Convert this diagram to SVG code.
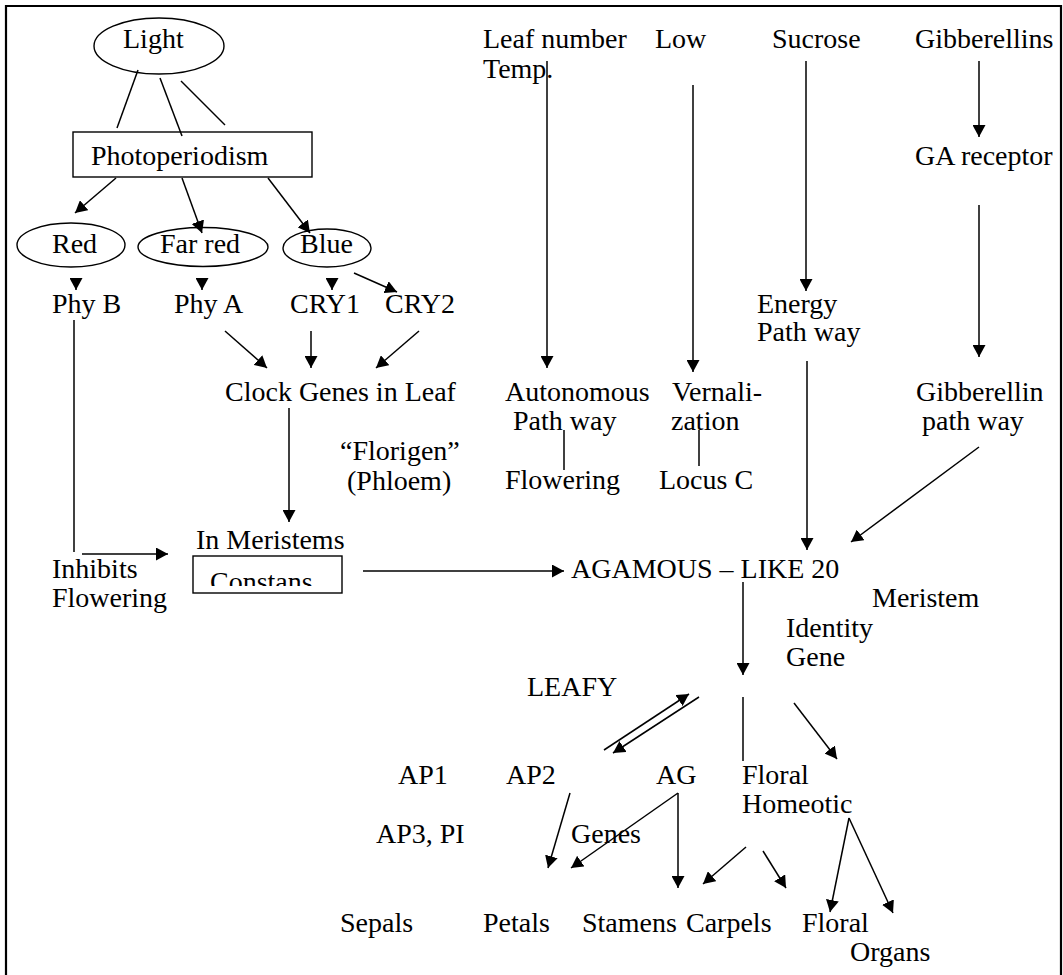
<svg xmlns="http://www.w3.org/2000/svg" width="1063" height="975" viewBox="0 0 1063 975">
<style>
text{font-family:"Liberation Serif","Times New Roman",serif;font-size:28px;fill:#000}
.sh{fill:none;stroke:#000;stroke-width:1.4}
.c line{stroke:#000;stroke-width:1.5}
.a{marker-end:url(#ah)}
</style>
<defs>
<marker id="ah" markerUnits="userSpaceOnUse" markerWidth="13" markerHeight="13" refX="12" refY="6.5" orient="auto">
<path d="M0,0 L12,6.5 L0,13 z" fill="#000"/>
</marker>
<clipPath id="cc"><rect x="190" y="556" width="155" height="30"/></clipPath>
</defs>
<rect width="1063" height="975" fill="#fff"/>
<path d="M6,975 V6 H1061 V975" fill="none" stroke="#000" stroke-width="2.2"/>

<g id="light"><ellipse class="sh" cx="159" cy="46" rx="65" ry="28"/><text x="123" y="48">Light</text></g>
<g id="photoperiodism"><rect class="sh" x="73" y="132" width="239" height="45"/><text x="91" y="165">Photoperiodism</text></g>
<g id="red"><ellipse class="sh" cx="71" cy="245" rx="54" ry="22"/><text x="52" y="253">Red</text></g>
<g id="farred"><ellipse class="sh" cx="203" cy="247" rx="65" ry="19.5"/><text x="160" y="253">Far red</text></g>
<g id="blue"><ellipse class="sh" cx="327" cy="248" rx="44" ry="19"/><text x="300" y="253">Blue</text></g>
<g id="phyb"><text x="52" y="313">Phy B</text></g>
<g id="phya"><text x="174" y="313">Phy A</text></g>
<g id="cry1"><text x="290" y="313">CRY1</text></g>
<g id="cry2"><text x="385" y="313">CRY2</text></g>
<g id="clock"><text x="225" y="401">Clock Genes in Leaf</text></g>
<g id="florigen"><text x="340" y="460">“Florigen”</text><text x="347" y="490">(Phloem)</text></g>
<g id="constans"><text x="196" y="549">In Meristems</text><rect class="sh" x="193" y="556" width="149" height="37"/><text x="210" y="591" clip-path="url(#cc)">Constans</text></g>
<g id="inhibits"><text x="52" y="578">Inhibits</text><text x="52" y="607">Flowering</text></g>
<g id="leafnumber"><text x="483" y="48">Leaf number</text><text x="483" y="78">Temp.</text></g>
<g id="low"><text x="655" y="48">Low</text></g>
<g id="sucrose"><text x="772" y="48">Sucrose</text></g>
<g id="gibberellins"><text x="915" y="48">Gibberellins</text></g>
<g id="gareceptor"><text x="915" y="165">GA receptor</text></g>
<g id="energy"><text x="757" y="313">Energy</text><text x="757" y="341">Path way</text></g>
<g id="autonomous"><text x="505" y="401">Autonomous</text><text x="513" y="430">Path way</text></g>
<g id="vernalization"><text x="672" y="401">Vernali-</text><text x="671" y="430">zation</text></g>
<g id="gibpath"><text x="916" y="401">Gibberellin</text><text x="922" y="430">path way</text></g>
<g id="flowering"><text x="505" y="489">Flowering</text></g>
<g id="locusc"><text x="659" y="489">Locus C</text></g>
<g id="agamous"><text x="571" y="578">AGAMOUS – LIKE 20</text></g>
<g id="meristem"><text x="872" y="607">Meristem</text><text x="786" y="637">Identity</text><text x="786" y="666">Gene</text></g>
<g id="leafy"><text x="527" y="696">LEAFY</text></g>
<g id="ap1"><text x="398" y="784">AP1</text></g>
<g id="ap2"><text x="506" y="784">AP2</text></g>
<g id="ag"><text x="656" y="784">AG</text></g>
<g id="floralhomeotic"><text x="742" y="784">Floral</text><text x="742" y="813">Homeotic</text></g>
<g id="ap3"><text x="376" y="843">AP3, PI</text></g>
<g id="genes"><text x="571" y="843">Genes</text></g>
<g id="sepals"><text x="340" y="932">Sepals</text></g>
<g id="petals"><text x="483" y="932">Petals</text></g>
<g id="stamens"><text x="582" y="932">Stamens</text></g>
<g id="carpels"><text x="686" y="932">Carpels</text></g>
<g id="floralorgans"><text x="802" y="932">Floral</text><text x="850" y="961">Organs</text></g>

<g id="connectors" class="c">
<line x1="138" y1="70" x2="117" y2="128"/>
<line x1="160" y1="78" x2="182" y2="136"/>
<line x1="181" y1="81" x2="225" y2="125"/>
<line class="a" x1="116" y1="178" x2="75" y2="213"/>
<line class="a" x1="182" y1="178" x2="202" y2="233"/>
<line class="a" x1="268" y1="178" x2="310" y2="233"/>
<line class="a" x1="76" y1="278" x2="76" y2="290"/>
<line class="a" x1="202" y1="278" x2="202" y2="290"/>
<line class="a" x1="332" y1="278" x2="332" y2="290"/>
<line class="a" x1="354" y1="273" x2="397" y2="292"/>
<line class="a" x1="225" y1="331" x2="267" y2="368"/>
<line class="a" x1="311" y1="331" x2="311" y2="368"/>
<line class="a" x1="419" y1="331" x2="376" y2="368"/>
<line class="a" x1="289" y1="408" x2="289" y2="522"/>
<line x1="74" y1="320" x2="74" y2="552"/>
<line class="a" x1="82" y1="554" x2="168" y2="554"/>
<line class="a" x1="363" y1="571" x2="564" y2="571"/>
<line class="a" x1="547" y1="61" x2="547" y2="368"/>
<line class="a" x1="693" y1="85" x2="693" y2="372"/>
<line class="a" x1="806" y1="61" x2="806" y2="291"/>
<line class="a" x1="979" y1="61" x2="979" y2="137"/>
<line class="a" x1="979" y1="205" x2="979" y2="357"/>
<line class="a" x1="807" y1="361" x2="807" y2="550"/>
<line class="a" x1="979" y1="447" x2="851" y2="542"/>
<line x1="564" y1="430" x2="564" y2="470"/>
<line x1="699" y1="430" x2="699" y2="466"/>
<line class="a" x1="743" y1="582" x2="743" y2="675"/>
<line class="a" x1="604" y1="750" x2="689" y2="694"/>
<line class="a" x1="699" y1="697" x2="613" y2="753"/>
<line x1="743" y1="697" x2="743" y2="761"/>
<line class="a" x1="794" y1="703" x2="837" y2="759"/>
<line class="a" x1="570" y1="793" x2="548" y2="868"/>
<line class="a" x1="678" y1="793" x2="571" y2="868"/>
<line class="a" x1="678" y1="793" x2="678" y2="888"/>
<line class="a" x1="746" y1="847" x2="703" y2="884"/>
<line class="a" x1="763" y1="851" x2="786" y2="888"/>
<line class="a" x1="849" y1="818" x2="830" y2="912"/>
<line class="a" x1="849" y1="818" x2="893" y2="913"/>
</g>
</svg>
